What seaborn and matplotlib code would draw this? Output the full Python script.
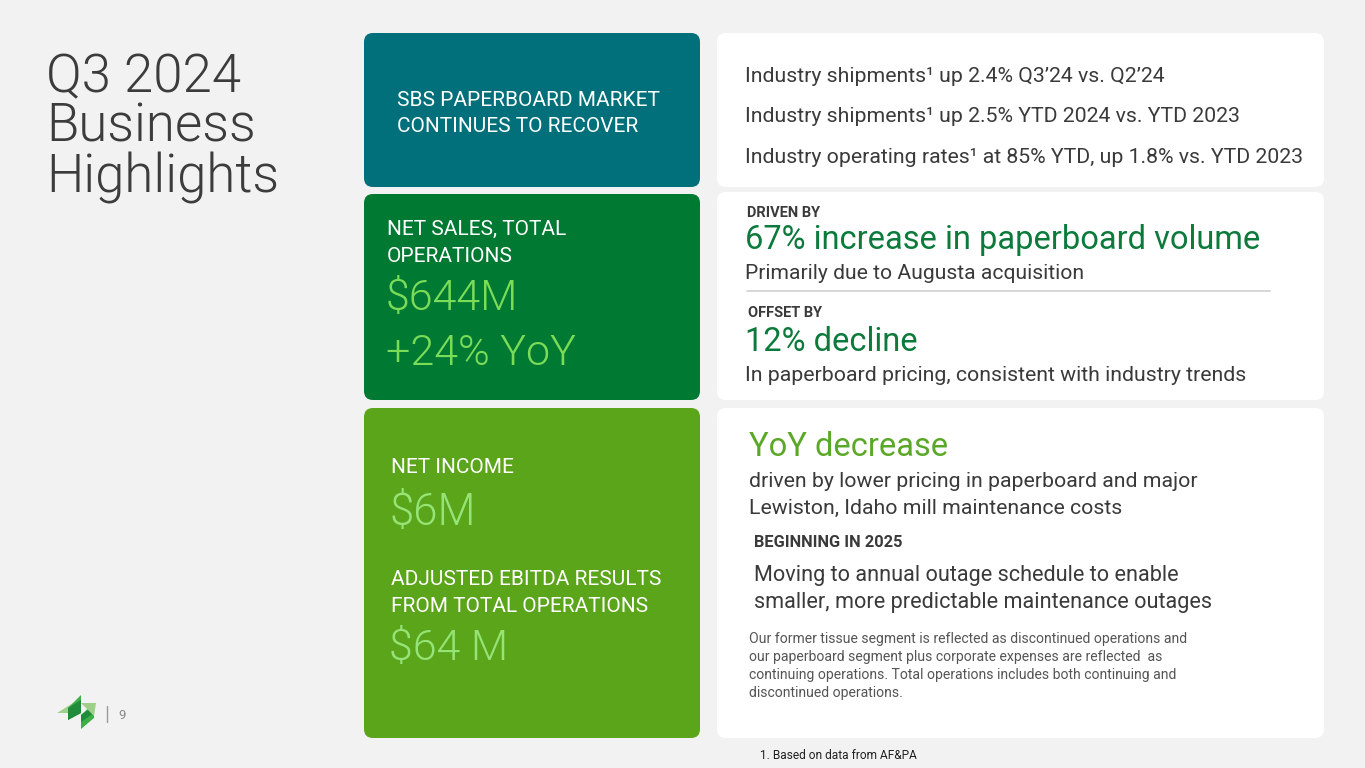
import matplotlib
matplotlib.use("Agg")
import matplotlib.pyplot as plt
from matplotlib.patches import FancyBboxPatch, Polygon
import seaborn as sns

# ---------------- content ----------------
title_lines = ["Q3 2024", "Business", "Highlights"]
market_header = ["SBS PAPERBOARD MARKET", "CONTINUES TO RECOVER"]
market_points = [
    "Industry shipments\u00b9 up 2.4% Q3\u201924 vs. Q2\u201924",
    "Industry shipments\u00b9 up 2.5% YTD 2024 vs. YTD 2023",
    "Industry operating rates\u00b9 at 85% YTD, up 1.8% vs. YTD 2023",
]
sales_header = ["NET SALES, TOTAL", "OPERATIONS"]
sales_values = ["$644M", "+24% YoY"]
driver_labels = ["DRIVEN BY", "OFFSET BY"]
driver_heads = ["67% increase in paperboard volume", "12% decline"]
driver_texts = ["Primarily due to Augusta acquisition",
                "In paperboard pricing, consistent with industry trends"]
income_header = "NET INCOME"
income_value = "$6M"
ebitda_header = ["ADJUSTED EBITDA RESULTS", "FROM TOTAL OPERATIONS"]
ebitda_value = "$64 M"
income_head = "YoY decrease"
income_text = ["driven by lower pricing in paperboard and major",
               "Lewiston, Idaho mill maintenance costs"]
outlook_label = "BEGINNING IN 2025"
outlook_text = ["Moving to annual outage schedule to enable",
                "smaller, more predictable maintenance outages"]
note_text = ["Our former tissue segment is reflected as discontinued operations and",
             "our paperboard segment plus corporate expenses are reflected  as",
             "continuing operations. Total operations includes both continuing and",
             "discontinued operations."]
source_note = "1. Based on data from AF&PA"
page_number = "9"

# ---------------- style ----------------
sns.set_theme(style="white")
plt.rcParams["font.family"] = ["Roboto", "DejaVu Sans"]

BG = "#F2F2F2"
TEAL = "#01707A"
DGREEN = "#007A33"
LGREEN = "#5AA51A"
VAL1 = "#7BDC58"
VAL2 = "#96E477"
HEAD_DG = "#0B7A3B"
HEAD_LG = "#5BA829"
DARK = "#3A3A3A"
LIGHT = 300

fig = plt.figure(figsize=(13.65, 7.68), dpi=100, facecolor=BG)
ax = fig.add_axes([0, 0, 1, 1])
ax.set_xlim(0, 1365)
ax.set_ylim(768, 0)
ax.set_facecolor(BG)
ax.axis("off")


def box(x0, y0, x1, y1, color, r=9):
    ax.add_patch(FancyBboxPatch((x0, y0), x1 - x0, y1 - y0,
                                boxstyle=f"round,pad=0,rounding_size={r}",
                                facecolor=color, edgecolor="none", zorder=1))


def txt(x, y, s, size, color=DARK, weight="normal", **kw):
    ax.text(x, y, s, fontsize=size, color=color, fontweight=weight,
            va="baseline", ha="left", zorder=3, **kw)


# panels
box(364, 33, 700, 187, TEAL)
box(364, 194, 700, 400, DGREEN)
box(364, 408, 700, 738, LGREEN)
box(717, 33, 1324, 187, "white")
box(717, 192, 1324, 400, "white")
box(717, 408, 1324, 738, "white")

# title
for i, line in enumerate(title_lines):
    txt(46, 92 + i * 50, line, 38, color="#3C3C3C", weight=LIGHT)

# left panels
for i, line in enumerate(market_header):
    txt(397, 106 + i * 26, line, 15, color="white")
for i, line in enumerate(sales_header):
    txt(387, 235 + i * 27, line, 15, color="white")
txt(386, 310, sales_values[0], 31, color=VAL1, weight=LIGHT)
txt(386, 365, sales_values[1], 31, color=VAL1, weight=LIGHT)
txt(391, 473, income_header, 15, color="white")
txt(389, 525, income_value, 31.5, color=VAL2, weight=LIGHT)
for i, line in enumerate(ebitda_header):
    txt(391, 585 + i * 27, line, 15, color="white")
txt(389, 660, ebitda_value, 31, color=VAL2, weight=LIGHT)

# right top
for i, line in enumerate(market_points):
    txt(745, 82 + i * 40.5, line, 15.3, color=DARK)

# right middle
txt(747, 217, driver_labels[0], 10.5, color=DARK, weight="bold")
txt(745, 249, driver_heads[0], 23.5, color=HEAD_DG)
txt(745, 279, driver_texts[0], 15.2, color=DARK)
ax.plot([747, 1270], [291, 291], color="#CFCFCF", lw=1.2, zorder=3)
txt(748, 317, driver_labels[1], 10.5, color=DARK, weight="bold")
txt(745, 351, driver_heads[1], 23.5, color=HEAD_DG)
txt(745, 381, driver_texts[1], 15.3, color=DARK)

# right bottom
txt(749, 456, income_head, 23.5, color=HEAD_LG)
for i, line in enumerate(income_text):
    txt(749, 487 + i * 27, line, 15.3, color=DARK)
txt(754, 547, outlook_label, 11.8, color=DARK, weight="bold")
for i, line in enumerate(outlook_text):
    txt(754, 581 + i * 27, line, 15.6, color=DARK)
for i, line in enumerate(note_text):
    txt(749, 643 + i * 18, line, 10.1, color="#555555")
txt(760, 759, source_note, 8.6, color="#222222")

# logo
logo_shapes = [
    ([(57, 713), (81, 698), (81, 713)], "#9ED08A"),
    ([(68, 708), (81, 695), (81, 713), (68, 720)], "#3FAE49"),
    ([(68, 708), (81, 700), (81, 713), (68, 720)], "#1E8C3A"),
    ([(81, 715), (94, 703), (94, 718), (81, 729)], "#3FAE49"),
    ([(81, 715), (94, 706), (94, 713), (81, 722)], "#1E8C3A"),
    ([(81, 703), (96, 703), (94, 716)], "#9ED08A"),
]
for pts, col in logo_shapes:
    ax.add_patch(Polygon(pts, closed=True, facecolor=col, edgecolor="none", zorder=2))
ax.plot([106.5, 106.5], [706, 722], color="#9A9A9A", lw=1.0, zorder=3)
txt(118, 719, page_number, 9.5, color="#8A8A8A")

fig.savefig("out.png", dpi=100, facecolor=BG)
